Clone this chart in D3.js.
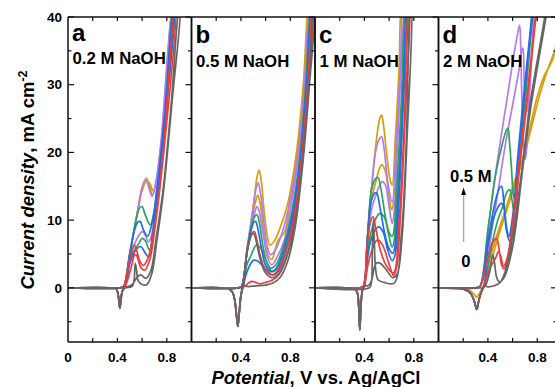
<!DOCTYPE html>
<html><head><meta charset="utf-8">
<script src="https://cdn.jsdelivr.net/npm/d3@7"></script>
<style>body{margin:0;background:#fff} svg{display:block}</style>
</head><body>
<svg id="chart" width="555" height="387"></svg>
<script>
// ---------- data ----------
const seriesNames = ["gold", "purple", "green", "blue", "red", "gray"]; // draw order
const seriesColors = ["#d4a010", "#b57bee", "#2ea45a", "#1f6fe5", "#ee3b3b", "#666666"];
const panelLetters = ["a", "b", "c", "d"];
const panelTitles = ["0.2 M NaOH", "0.5 M NaOH", "1 M NaOH", "2 M NaOH"];
const yMajorTicks = [0, 10, 20, 30, 40];
const yMinorTicks = [-5, 5, 15, 25, 35];
const yTickLabels = ["0", "10", "20", "30", "40"];
const xTicks = [0.2, 0.4, 0.6, 0.8];
const xLabelsFirst = [0, 0.4, 0.8];
const xLabelsOther = [0.4, 0.8];
const arrowLabels = ["0.5 M", "0"];

// reverse-scan cathodic tails (potential V, current mA cm-2)
const tailA = [[0.46,0.1],[0.44,-0.5],[0.428,-1.8],[0.42,-3.0],[0.412,-1.8],[0.40,-0.5],[0.385,-0.1],[0.35,0],[0,0]];
const tailB = [[0.42,0.4],[0.40,-1.2],[0.385,-4.0],[0.375,-5.7],[0.365,-4.2],[0.35,-1.8],[0.33,-0.6],[0.3,-0.15],[0.25,0],[0,0]];
const tailC = [[0.40,0.3],[0.385,-0.3],[0.372,-2.5],[0.363,-6.2],[0.355,-3.0],[0.345,-0.9],[0.33,-0.3],[0.3,-0.1],[0.25,0],[0,0]];
const tailD = [[0.37,0.3],[0.345,-0.7],[0.325,-2.0],[0.31,-3.2],[0.29,-2.0],[0.26,-0.8],[0.22,-0.3],[0.17,-0.1],[0.1,0],[0,0]];

// panel a: 0.2 M NaOH
const curvesA = [
  [[0,0],[0.42,0],[0.45,0.2],[0.5,5],[0.56,11],[0.6,14.8],[0.635,16.2],[0.66,15],[0.685,13.7],[0.715,15.8],[0.755,21.5],[0.85,42],
   [0.855,42],[0.76,21.5],[0.72,16],[0.69,14.3],[0.66,15.5],[0.635,15.7],[0.6,14.3],[0.56,10.8],[0.5,4.8],...tailA],
  [[0,0],[0.42,0],[0.45,0.2],[0.5,5],[0.56,11],[0.6,14.8],[0.63,16],[0.655,14.8],[0.68,13.5],[0.71,15.5],[0.75,21],[0.85,42],
   [0.855,42],[0.755,21],[0.715,14],[0.68,8],[0.65,6.8],[0.62,8],[0.6,8.3],[0.575,7.8],[0.54,6.5],[0.5,4.2],...tailA],
  [[0,0],[0.42,0],[0.45,0.2],[0.5,5],[0.55,10],[0.58,11.8],[0.60,12],[0.625,10.8],[0.665,9.3],[0.7,11.5],[0.74,17],[0.79,26],[0.855,42],
   [0.86,42],[0.795,26],[0.745,17],[0.7,9],[0.66,5.6],[0.625,7.0],[0.6,7.3],[0.575,6.6],[0.54,5.6],[0.5,4],...tailA],
  [[0,0],[0.42,0],[0.45,0.2],[0.5,5],[0.54,8.6],[0.565,9.7],[0.585,9.8],[0.61,8.6],[0.645,7.6],[0.68,9.5],[0.72,14.5],[0.78,25],[0.86,42],
   [0.865,42],[0.785,25],[0.725,14],[0.685,8],[0.65,4.6],[0.62,5.3],[0.59,6.1],[0.565,5.9],[0.53,5],[0.5,3.5],...tailA],
  [[0,0],[0.42,0],[0.45,0.2],[0.48,2.5],[0.51,5],[0.535,6.3],[0.555,5.6],[0.58,4.0],[0.61,3.3],[0.65,4.5],[0.7,9],[0.77,20],[0.87,42],
   [0.875,42],[0.775,20],[0.705,9],[0.66,4],[0.62,2.6],[0.585,3.2],[0.555,4.8],[0.54,4.9],[0.52,3.6],[0.49,1.6],...tailA],
  [[0,0],[0.45,0],[0.52,0.2],[0.535,1.2],[0.545,3.6],[0.555,2.6],[0.57,1.0],[0.6,0.5],[0.64,0.5],[0.68,2.2],[0.72,7],[0.775,14.5],[0.84,27],[0.91,42],
   [0.905,42],[0.835,27],[0.77,14.5],[0.715,7.5],[0.67,2.5],[0.63,1.4],[0.59,1.9],[0.56,1.6],[0.52,0.5],[0.48,0.15],...tailA]
];

// panel b: 0.5 M NaOH
const curvesB = [
  [[0,0],[0.38,0],[0.405,0.2],[0.45,5.7],[0.5,12],[0.53,16.3],[0.547,17.4],[0.565,15.8],[0.59,11],[0.615,7.5],[0.635,6.3],[0.67,6.9],[0.72,9],[0.78,12.5],[0.85,20],[0.905,30],[0.95,42],
   [0.955,42],[0.91,30],[0.86,20],[0.8,13.5],[0.755,8.3],[0.7,7],[0.65,4.2],[0.62,4.8],[0.585,8.5],[0.555,12.5],[0.537,13.7],[0.52,12.8],[0.49,10.3],[0.45,5.5],...tailB],
  [[0,0],[0.38,0],[0.405,0.2],[0.45,5.7],[0.5,12],[0.525,14.8],[0.54,15.5],[0.56,13.8],[0.59,9],[0.615,6],[0.64,4.9],[0.68,5.6],[0.74,8.5],[0.8,13],[0.865,20],[0.915,30],[0.96,42],
   [0.965,42],[0.92,30],[0.87,20],[0.81,12.5],[0.75,7],[0.7,4.8],[0.65,3.4],[0.615,4.5],[0.58,8],[0.545,11.5],[0.53,12.0],[0.51,11],[0.48,8.8],[0.45,5.4],...tailB],
  [[0,0],[0.38,0],[0.405,0.2],[0.45,5.5],[0.49,9.5],[0.515,10.6],[0.53,10.8],[0.55,9.6],[0.58,6],[0.61,3.8],[0.645,2.9],[0.69,3.6],[0.75,6.5],[0.81,11],[0.875,19],[0.925,30],[0.97,42],
   [0.975,42],[0.93,30],[0.88,19],[0.815,10.5],[0.755,5.5],[0.7,3],[0.655,2.4],[0.62,3.2],[0.585,4.9],[0.55,6.1],[0.525,6.3],[0.505,5.8],[0.48,4.7],[0.45,3.5],...tailB],
  [[0,0],[0.38,0],[0.405,0.2],[0.45,5.5],[0.49,9],[0.505,9.7],[0.52,9.8],[0.54,8.5],[0.57,5.5],[0.6,3.3],[0.645,2.4],[0.69,3],[0.75,5.8],[0.815,10.5],[0.88,19],[0.93,30],[0.975,42],
   [0.98,42],[0.935,30],[0.885,19],[0.82,10],[0.76,5],[0.705,2.5],[0.66,1.9],[0.62,2.3],[0.57,3.4],[0.53,4.0],[0.505,4.1],[0.48,3.6],[0.45,2.4],...tailB],
  [[0,0],[0.38,0],[0.405,0.2],[0.45,5.3],[0.48,7.6],[0.495,8.2],[0.51,8.3],[0.53,7],[0.56,4.5],[0.6,2.6],[0.65,1.9],[0.7,2.6],[0.76,5.2],[0.825,10],[0.89,19],[0.94,30],[0.985,42],
   [0.99,42],[0.945,30],[0.895,19],[0.83,9.5],[0.77,4.5],[0.71,2.0],[0.66,1.2],[0.6,0.8],[0.55,0.6],[0.52,0.8],[0.49,0.95],[0.46,0.7],[0.435,0.2],...tailB],
  [[0,0],[0.38,0],[0.405,0.2],[0.45,5.2],[0.475,7.4],[0.49,7.9],[0.505,8.0],[0.525,6.8],[0.555,4.3],[0.6,2.2],[0.655,1.5],[0.71,2.2],[0.77,4.6],[0.835,9.5],[0.9,19],[0.95,30],[0.995,42],
   [1.0,42],[0.955,30],[0.905,19],[0.84,9],[0.78,4],[0.72,1.6],[0.66,0.7],[0.6,0.4],[0.52,0.3],[0.45,0.2],...tailB]
];

// panel c: 1 M NaOH
const curvesC = [
  [[0,0],[0.36,0],[0.39,0.2],[0.425,7.5],[0.457,14.5],[0.497,21.8],[0.525,25],[0.54,25.5],[0.555,24],[0.585,19],[0.61,15.8],[0.625,15.2],[0.65,22],[0.68,32],[0.705,42],
   [0.715,42],[0.69,32],[0.66,22],[0.635,12.5],[0.62,11.5],[0.6,13.5],[0.57,17.2],[0.54,18.2],[0.52,17.5],[0.49,15.5],[0.457,13],[0.42,6],...tailC],
  [[0,0],[0.36,0],[0.39,0.2],[0.425,7.5],[0.457,14.5],[0.495,20.5],[0.525,22.1],[0.54,22.3],[0.56,20.5],[0.59,15.5],[0.625,12.7],[0.655,20],[0.69,32],[0.715,42],
   [0.72,42],[0.695,32],[0.665,20],[0.64,11],[0.625,9.5],[0.6,12],[0.57,15.2],[0.545,15.7],[0.52,15],[0.49,13.5],[0.457,11.5],[0.42,5],...tailC],
  [[0,0],[0.36,0],[0.39,0.2],[0.425,7.5],[0.457,14.5],[0.49,16.1],[0.51,16.3],[0.535,14.5],[0.57,10.5],[0.6,8.2],[0.625,7.6],[0.665,16],[0.7,28],[0.735,42],
   [0.74,42],[0.705,28],[0.67,15],[0.645,7.5],[0.625,6.0],[0.6,7.5],[0.56,10.5],[0.525,11.0],[0.5,10.5],[0.47,9.2],[0.44,7],[0.415,3],...tailC],
  [[0,0],[0.36,0],[0.39,0.2],[0.425,7.5],[0.455,12.8],[0.485,14],[0.5,14.0],[0.525,12],[0.565,8],[0.6,5.8],[0.63,5.1],[0.675,14],[0.71,27],[0.745,42],
   [0.75,42],[0.715,27],[0.68,13],[0.65,5],[0.625,4.0],[0.59,5.5],[0.55,8.3],[0.515,9.0],[0.49,8.6],[0.46,7.5],[0.43,5],[0.41,1.5],...tailC],
  [[0,0],[0.36,0],[0.39,0.2],[0.42,6],[0.45,9.8],[0.47,10.5],[0.49,9],[0.53,5.5],[0.58,3.2],[0.635,2.2],[0.685,11],[0.725,25],[0.76,42],
   [0.765,42],[0.73,25],[0.69,10],[0.66,3],[0.635,1.8],[0.6,3.5],[0.55,6.2],[0.51,7.1],[0.49,6.8],[0.46,5.5],[0.43,3.5],[0.41,1.2],...tailC],
  [[0,0],[0.44,0],[0.455,0.6],[0.465,6],[0.472,10],[0.48,7],[0.49,3],[0.51,1.2],[0.56,0.8],[0.64,0.7],[0.7,8],[0.74,22],[0.775,42],
   [0.78,42],[0.745,22],[0.705,7.5],[0.665,2],[0.63,1.5],[0.58,2.6],[0.53,3.6],[0.5,3.7],[0.48,3.0],[0.46,1.2],[0.43,0.3],...tailC]
];

// panel d: 2 M NaOH
const curvesD = [
  [[0,0],[0.3,0],[0.335,0.2],[0.4,3.5],[0.47,7.6],[0.55,12],[0.63,16.5],[0.684,18.9],[0.75,23.5],[0.82,28.5],[0.88,32],[0.94,35],[1.0,38],
   [1.0,41],[0.96,37],[0.93,34],[0.9,32.8],[0.86,31.5],[0.8,28.3],[0.72,22],[0.65,17],[0.58,13],[0.5,8.5],[0.42,3.5],[0.37,0.6],[0.345,-0.4],[0.325,-1.0],[0.31,-1.4],[0.29,-1.0],[0.26,-0.5],[0.2,-0.1],[0.1,0],[0,0]],
  [[0,0],[0.3,0],[0.335,0.2],[0.40,8.5],[0.47,17.9],[0.56,28.5],[0.63,36.5],[0.657,38.8],[0.665,36],[0.675,28],[0.69,21],[0.705,19],[0.73,26],[0.76,36],[0.78,42],[0.79,45],
   [0.785,45],[0.77,40],[0.74,30],[0.715,26],[0.695,30],[0.684,35.4],[0.675,35],[0.65,32],[0.6,27],[0.54,21],[0.48,14],[0.42,7],...tailD],
  [[0,0],[0.3,0],[0.335,0.2],[0.40,8.5],[0.46,16.5],[0.52,21.5],[0.55,23.3],[0.563,23.6],[0.575,21.5],[0.59,17.9],[0.605,14],[0.62,13],[0.65,17],[0.7,27],[0.76,40],[0.78,44],
   [0.775,44],[0.755,40],[0.695,27],[0.65,18],[0.625,12],[0.61,11.5],[0.595,13],[0.575,14.5],[0.55,14.0],[0.52,12],[0.48,10],[0.44,7],[0.4,3],...tailD],
  [[0,0],[0.3,0],[0.335,0.2],[0.4,7],[0.46,12.8],[0.495,14.8],[0.51,15],[0.53,12.5],[0.555,8.5],[0.57,7.6],[0.6,10.5],[0.65,20],[0.72,33],[0.76,40],[0.78,44],
   [0.775,44],[0.755,40],[0.715,33],[0.645,20],[0.6,10],[0.575,6.9],[0.55,8.5],[0.525,12.2],[0.51,12.5],[0.485,12.0],[0.45,10.5],[0.4,6],...tailD],
  [[0,0],[0.3,0],[0.335,0.2],[0.4,4.5],[0.44,6.8],[0.47,7.3],[0.49,5.8],[0.51,3.5],[0.53,2.8],[0.57,5],[0.657,17.9],[0.72,28],[0.79,40],[0.82,44],
   [0.815,44],[0.785,40],[0.715,28],[0.65,17.9],[0.59,8],[0.55,4],[0.525,3.2],[0.505,4.6],[0.485,5.3],[0.46,4.3],[0.42,3.0],[0.39,1.5],...tailD],
  [[0,0],[0.3,0],[0.37,0.1],[0.41,2],[0.43,4.2],[0.44,4.9],[0.455,3.5],[0.47,1.6],[0.49,0.9],[0.53,1.5],[0.6,6],[0.684,17.9],[0.75,27],[0.87,40],[0.9,44],
   [0.89,44],[0.86,40],[0.74,27],[0.675,17.5],[0.6,7.5],[0.55,3],[0.5,0.8],[0.45,0.3],[0.4,0.15],...tailD]
];

const panelCurves = [curvesA, curvesB, curvesC, curvesD];

// ---------- layout ----------
const svg = d3.select("#chart");
const topY = 17, bottomY = 342;
const panelLeft = [68, 191.5, 315, 438.5];
const panelRight = [191.5, 315, 438.5, 557];
const panelW = 123.5;
const font = "'Liberation Sans', Arial, Helvetica, sans-serif";

const y = d3.scaleLinear().domain([-8, 40]).range([bottomY, topY]);
const defs = svg.append("defs");

function boldText(x, yy, size, anchor) {
  return svg.append("text")
    .attr("x", x).attr("y", yy)
    .attr("text-anchor", anchor || "start")
    .attr("font-family", font).attr("font-weight", "bold").attr("font-size", size)
    .attr("fill", "#000");
}

panelCurves.forEach((curves, pi) => {
  const x0 = panelLeft[pi], x1 = panelRight[pi];
  const x = d3.scaleLinear().domain([0, 1]).range([x0, x0 + panelW]);
  const clipId = "clip" + pi;
  defs.append("clipPath").attr("id", clipId)
    .append("rect").attr("x", x0).attr("y", topY).attr("width", x1 - x0).attr("height", bottomY - topY);

  const g = svg.append("g").attr("clip-path", `url(#${clipId})`);
  const line = d3.line().x(d => x(d[0])).y(d => y(d[1])).curve(d3.curveCatmullRom.alpha(0.5));
  g.selectAll("path").data(curves).join("path")
    .attr("d", d => line(d))
    .attr("fill", "none")
    .attr("stroke", (d, i) => seriesColors[i])
    .attr("stroke-width", 1.7)
    .attr("stroke-linejoin", "round");

  const frame = svg.append("g").attr("stroke", "#111").attr("stroke-width", 1.5).attr("fill", "none");
  frame.append("line").attr("x1", x0).attr("x2", x1).attr("y1", topY).attr("y2", topY);
  frame.append("line").attr("x1", x0).attr("x2", x1).attr("y1", bottomY).attr("y2", bottomY);
  frame.append("line").attr("x1", x0).attr("x2", x0).attr("y1", topY).attr("y2", bottomY);
  frame.append("line").attr("x1", x1).attr("x2", x1).attr("y1", topY).attr("y2", bottomY);

  const tk = svg.append("g").attr("stroke", "#111").attr("stroke-width", 1.2);
  xTicks.forEach(t => {
    tk.append("line").attr("x1", x(t)).attr("x2", x(t)).attr("y1", bottomY).attr("y2", bottomY - 4);
    tk.append("line").attr("x1", x(t)).attr("x2", x(t)).attr("y1", topY).attr("y2", topY + 4);
  });
  yMajorTicks.forEach(t => tk.append("line").attr("x1", x1).attr("x2", x1 - 6).attr("y1", y(t)).attr("y2", y(t)));
  yMinorTicks.forEach(t => tk.append("line").attr("x1", x1).attr("x2", x1 - 3.5).attr("y1", y(t)).attr("y2", y(t)));
  if (pi === 0) {
    yMajorTicks.forEach(t => tk.append("line").attr("x1", x0).attr("x2", x0 + 6).attr("y1", y(t)).attr("y2", y(t)));
    yMinorTicks.forEach(t => tk.append("line").attr("x1", x0).attr("x2", x0 + 3.5).attr("y1", y(t)).attr("y2", y(t)));
  }

  // x tick labels
  const labs = pi === 0 ? xLabelsFirst : xLabelsOther;
  svg.append("g").selectAll("text").data(labs).join("text")
    .attr("x", d => x(d)).attr("y", 361.7)
    .attr("text-anchor", "middle").attr("font-family", font).attr("font-weight", "bold")
    .attr("font-size", 13.5).attr("fill", "#000")
    .text(d => String(d));

  boldText(x0 + 4, pi === 0 ? 41 : 43.3, 24).text(panelLetters[pi]);
  boldText(x0 + 4.5, pi === 0 ? 63.5 : 66.5, 16.8).text(panelTitles[pi]);
});

// y tick labels (left of panel a)
svg.append("g").attr("class", "ylabels").selectAll("text").data(yMajorTicks).join("text")
  .attr("x", 62).attr("y", d => y(d) + 4.7)
  .attr("text-anchor", "end").attr("font-family", font).attr("font-weight", "bold")
  .attr("font-size", 13.5).attr("fill", "#000")
  .text((d, i) => yTickLabels[i]);

// arrow in panel d
svg.append("line").attr("x1", 463.6).attr("x2", 463.6).attr("y1", 242).attr("y2", 194)
  .attr("stroke", "#a8a8a8").attr("stroke-width", 1.4);
svg.append("path").attr("d", "M463.6,187.5 L461.2,195 L466,195 Z").attr("fill", "#000");
boldText(450, 181.7, 16.6).text(arrowLabels[0]);
boldText(465.8, 267.3, 16.6, "middle").text(arrowLabels[1]);

// axis titles
const xt = boldText(316, 384, 18.5, "middle");
xt.append("tspan").attr("font-style", "italic").text("Potential");
xt.append("tspan").text(", V vs. Ag/AgCl");

const yt = svg.append("text").attr("transform", "translate(34,180) rotate(-90)").attr("text-anchor", "middle")
  .attr("font-family", font).attr("font-weight", "bold").attr("font-size", 18.5);
yt.append("tspan").attr("font-style", "italic").text("Current density");
yt.append("tspan").text(", mA cm");
yt.append("tspan").attr("dy", -7).attr("font-size", 12.5).text("-2");
</script>
</body></html>
